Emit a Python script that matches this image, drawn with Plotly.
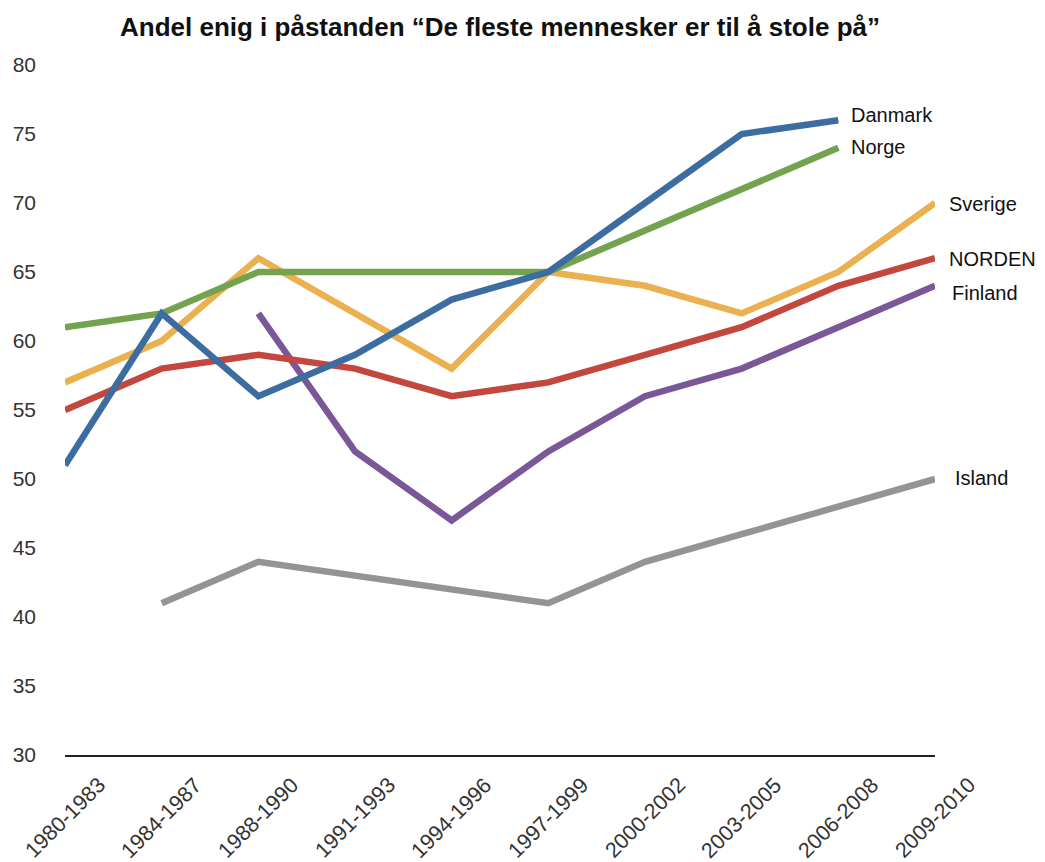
import plotly.graph_objects as go

periods = ["1980-1983", "1984-1987", "1988-1990", "1991-1993", "1994-1996",
           "1997-1999", "2000-2002", "2003-2005", "2006-2008", "2009-2010"]

danmark = [51, 62, 56, 59, 63, 65, 70, 75, 76, None]
norge = [61, 62, 65, 65, 65, 65, 68, 71, 74, None]
sverige = [57, 60, 66, 62, 58, 65, 64, 62, 65, 70]
norden = [55, 58, 59, 58, 56, 57, 59, 61, 64, 66]
finland = [None, None, 62, 52, 47, 52, 56, 58, 61, 64]
island = [None, 41, 44, None, None, 41, 44, 46, 48, 50]

series = [
    ("Island", island, "#939593"),
    ("Finland", finland, "#7A5797"),
    ("NORDEN", norden, "#C3473F"),
    ("Sverige", sverige, "#EBB04F"),
    ("Norge", norge, "#74A34F"),
    ("Danmark", danmark, "#3D6CA0"),
]

label_yshift = {"Danmark": 5, "Norge": 1, "Sverige": -1, "NORDEN": -1, "Finland": -7, "Island": 1}
label_xshift = {"Danmark": 11, "Norge": 11, "Sverige": 12, "NORDEN": 12, "Finland": 15, "Island": 18}

FONT = "Liberation Sans, Arial, Helvetica, sans-serif"

fig = go.Figure()
annotations = []
for name, vals, color in series:
    fig.add_trace(go.Scatter(
        x=periods, y=vals, mode="lines", name=name,
        line=dict(color=color, width=6.5), connectgaps=True,
    ))
    last = max(i for i, v in enumerate(vals) if v is not None)
    annotations.append(dict(
        x=periods[last], y=vals[last], xref="x", yref="y",
        text=name, showarrow=False, xanchor="left", yanchor="middle",
        xshift=label_xshift[name], yshift=label_yshift[name],
        font=dict(family=FONT, size=20, color="#111111"),
    ))

# category labels, rotated and centred under each category
for p in periods:
    annotations.append(dict(
        x=p, y=-0.0913, xref="x", yref="paper",
        text=p, showarrow=False, textangle=-45,
        xanchor="center", yanchor="middle",
        font=dict(family=FONT, size=21.5, color="#333333"),
    ))

fig.update_layout(
    width=1037, height=854,
    margin=dict(l=57, r=110, t=57, b=107),
    paper_bgcolor="white", plot_bgcolor="white",
    showlegend=False,
    title=dict(
        text="<b>Andel enig i påstanden “De fleste mennesker er til å stole på”</b>",
        x=0.5, xref="paper", xanchor="center", y=0.978, yanchor="middle",
        font=dict(family=FONT, size=26, color="#111111"),
    ),
    annotations=annotations,
    xaxis=dict(
        type="category", range=[0, 9], showgrid=False, zeroline=False,
        showline=True, linecolor="#222222", linewidth=2,
        ticks="", showticklabels=False, automargin=False,
    ),
    yaxis=dict(
        range=[30, 80], dtick=5, showgrid=False, zeroline=False, showline=False,
        ticks="", ticklabelstandoff=28, automargin=False,
        tickfont=dict(family=FONT, size=21, color="#333333"),
    ),
)

fig.write_html("out.html")
